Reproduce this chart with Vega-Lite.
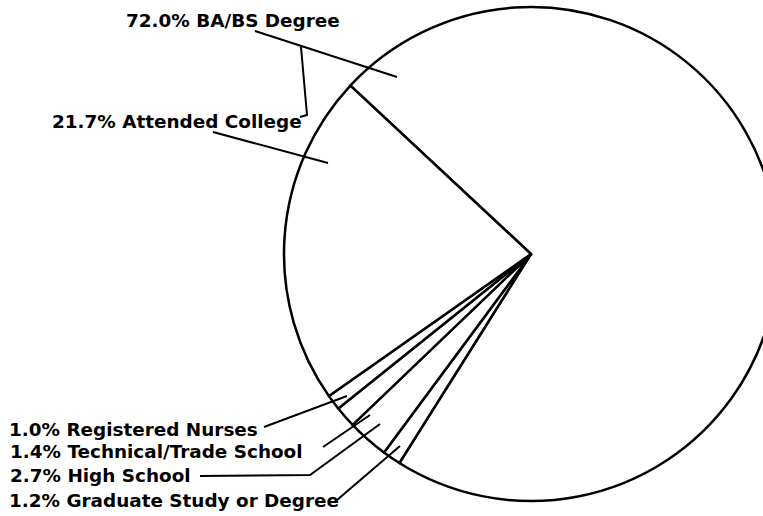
{
  "$schema": "https://vega.github.io/schema/vega-lite/v6.json",
  "width": 464,
  "height": 508,
  "autosize": {"type": "none"},
  "padding": {"left": 299, "top": 0, "right": 0, "bottom": 8},
  "background": "white",
  "config": {
    "view": {"stroke": null},
    "text": {"font": "DejaVu Sans", "fontSize": 18.4, "fontWeight": "bold", "color": "black"}
  },
  "data": {
    "values": [
      {"label": "BA/BS Degree", "pct": 72.0, "order": 1},
      {"label": "Graduate Study or Degree", "pct": 1.2, "order": 2},
      {"label": "High School", "pct": 2.7, "order": 3},
      {"label": "Technical/Trade School", "pct": 1.4, "order": 4},
      {"label": "Registered Nurses", "pct": 1.0, "order": 5},
      {"label": "Attended College", "pct": 21.7, "order": 6}
    ]
  },
  "transform": [
    {"calculate": "format(datum.pct, '.1f') + '% ' + datum.label", "as": "txt"}
  ],
  "layer": [
    {
      "mark": {"type": "arc", "radius": 247, "fill": "white", "stroke": "black", "strokeWidth": 2.5, "strokeJoin": "miter"},
      "encoding": {
        "theta": {"field": "pct", "type": "quantitative", "stack": true, "scale": {"range": [5.46288, 11.74607]}},
        "order": {"field": "order", "type": "quantitative"}
      }
    },
    {
      "transform": [{"filter": "datum.order == 1"}],
      "mark": {
        "type": "point",
        "shape": "M-276,-223L-134,-177M-230,-207L-224,-139L-231,-137M-318,-122L-203,-91M-267,173L-184,142M-208,193L-161,161M-331,222L-221,221L-151,170M-194,246L-131,192",
        "size": 4,
        "filled": false,
        "stroke": "black",
        "strokeWidth": 2,
        "opacity": 1
      },
      "encoding": {}
    },
    {
      "transform": [{"filter": "datum.order == 1"}],
      "mark": {"type": "text", "align": "left", "baseline": "alphabetic", "dx": -405, "dy": -227},
      "encoding": {"text": {"field": "txt"}}
    },
    {
      "transform": [{"filter": "datum.order == 6"}],
      "mark": {"type": "text", "align": "left", "baseline": "alphabetic", "dx": -479, "dy": -126},
      "encoding": {"text": {"field": "txt"}}
    },
    {
      "transform": [{"filter": "datum.order == 5"}],
      "mark": {"type": "text", "align": "left", "baseline": "alphabetic", "dx": -522, "dy": 182},
      "encoding": {"text": {"field": "txt"}}
    },
    {
      "transform": [{"filter": "datum.order == 4"}],
      "mark": {"type": "text", "align": "left", "baseline": "alphabetic", "dx": -521, "dy": 204},
      "encoding": {"text": {"field": "txt"}}
    },
    {
      "transform": [{"filter": "datum.order == 3"}],
      "mark": {"type": "text", "align": "left", "baseline": "alphabetic", "dx": -521, "dy": 228},
      "encoding": {"text": {"field": "txt"}}
    },
    {
      "transform": [{"filter": "datum.order == 2"}],
      "mark": {"type": "text", "align": "left", "baseline": "alphabetic", "dx": -522, "dy": 253},
      "encoding": {"text": {"field": "txt"}}
    }
  ]
}
